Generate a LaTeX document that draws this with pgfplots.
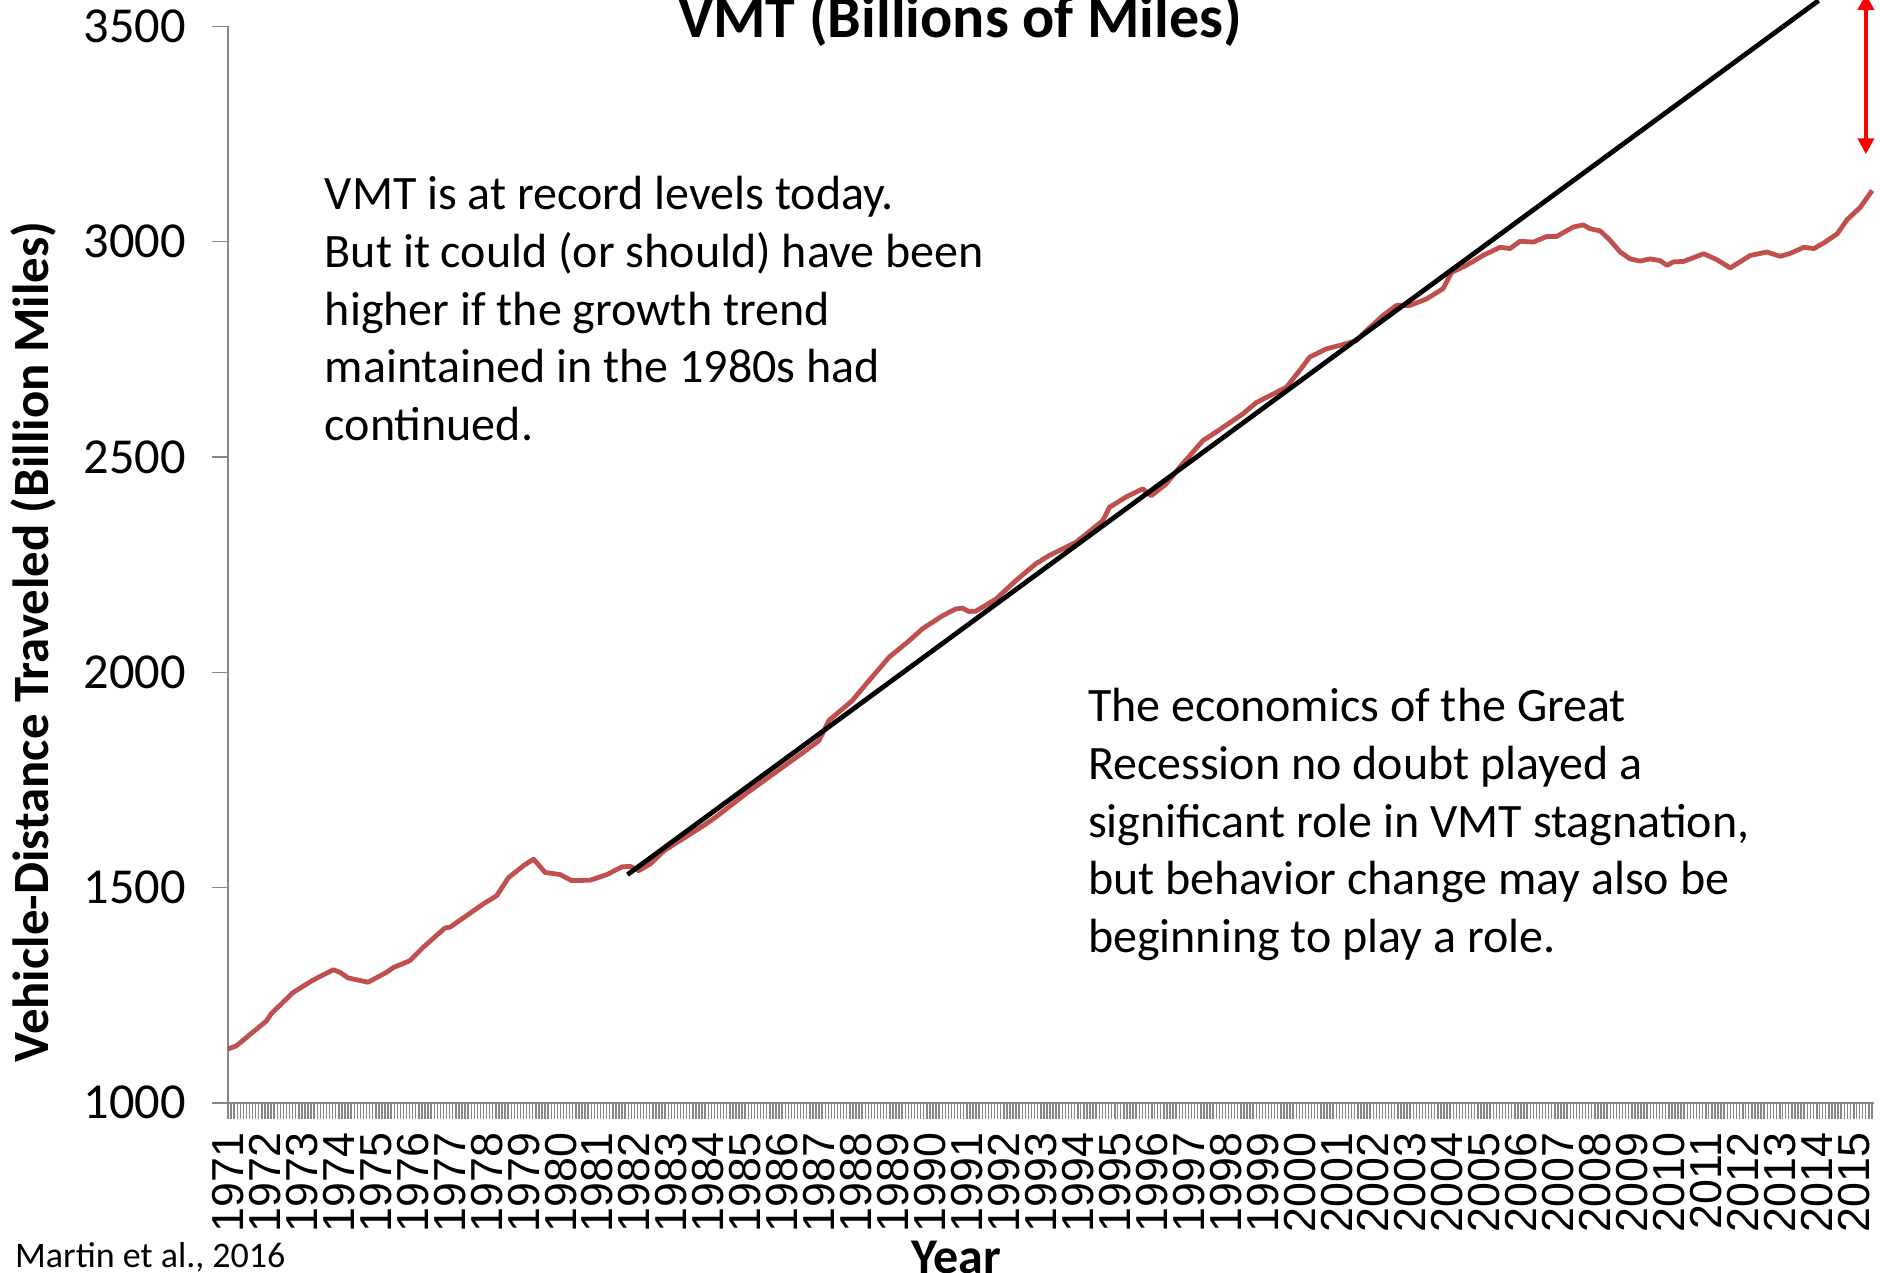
\documentclass[border=0pt]{standalone}
\usepackage{pgfplots}
\pgfplotsset{compat=1.18}
\usepackage{fontspec}
\setmainfont{Carlito}
\newfontfamily\arialf{Liberation Sans}
\usetikzlibrary{arrows.meta}
\definecolor{vmtred}{RGB}{192,80,77}
\definecolor{axgray}{RGB}{134,134,134}
\begin{document}
\begin{tikzpicture}
\useasboundingbox (0,0) rectangle (470pt,318pt);
\begin{axis}[
  at={(57pt,42.3pt)}, anchor=south west,
  scale only axis, width=411.6pt, height=269.1pt,
  xmin=1971, xmax=2015.55, ymin=1000, ymax=3500,
  axis lines*=left, axis line style={axgray, line width=0.6pt, -},
  clip=false,
  xtick={1971,...,2015},
  minor xtick={1971,1971.0833333,...,2015.5},
  ytick={1000,1500,...,3500},
  tick align=outside,
  major tick length=4pt, minor tick length=4pt,
  tick style={axgray, line width=0.35pt},
  minor tick style={axgray, line width=0.35pt},
  xticklabel style={rotate=90, anchor=east, font=\arialf\fontsize{11.2}{11.2}\selectfont},
  yticklabel style={font=\fontsize{12.6}{12.6}\selectfont, xshift=-3pt},
  /pgf/number format/1000 sep={},
  /pgf/number format/assume math mode=true,
]
\addplot[vmtred, line width=1.2pt, line join=round] table {
1971.00 1125
1971.22 1132
1972.04 1190
1972.17 1207
1972.76 1256
1973.30 1285
1973.85 1309
1974.03 1303
1974.25 1290
1974.79 1280
1975.29 1303
1975.47 1314
1975.92 1330
1976.28 1361
1976.87 1406
1977.01 1408
1977.91 1462
1978.27 1481
1978.59 1523
1979.00 1551
1979.27 1566
1979.58 1535
1979.99 1530
1980.30 1516
1980.80 1517
1981.25 1530
1981.66 1548
1981.89 1549
1982.11 1539
1982.43 1555
1982.79 1585
1983.87 1644
1984.19 1663
1985.00 1717
1986.00 1779
1986.63 1818
1986.99 1841
1987.26 1888
1987.89 1934
1988.34 1980
1988.89 2035
1989.43 2073
1989.79 2101
1990.33 2131
1990.69 2147
1990.87 2149
1991.05 2141
1991.24 2142
1991.78 2170
1992.32 2213
1992.86 2252
1993.22 2271
1993.95 2302
1994.67 2352
1994.85 2383
1995.30 2407
1995.75 2426
1995.98 2410
1996.38 2437
1996.75 2476
1997.38 2538
1997.74 2558
1998.46 2600
1998.82 2626
1999.64 2662
2000.00 2701
2000.27 2732
2000.72 2751
2001.08 2759
2001.53 2770
2001.81 2794
2002.26 2829
2002.62 2852
2002.98 2852
2003.43 2867
2003.88 2891
2004.11 2929
2004.51 2945
2004.96 2968
2005.42 2987
2005.69 2984
2005.96 3001
2006.32 2999
2006.68 3012
2006.95 3012
2007.40 3034
2007.67 3039
2007.86 3030
2008.13 3025
2008.40 3003
2008.67 2976
2008.94 2960
2009.21 2955
2009.48 2960
2009.75 2956
2009.94 2945
2010.11 2953
2010.38 2954
2010.93 2972
2011.29 2958
2011.65 2939
2012.19 2968
2012.64 2976
2013.00 2966
2013.28 2973
2013.64 2987
2013.91 2984
2014.18 2997
2014.54 3018
2014.81 3051
2015.17 3080
2015.49 3119
};
\addplot[black, line width=1.2pt] coordinates {(1981.81,1530) (2014.04,3560)};
\addplot[red, line width=1pt, {Triangle[width=4pt,length=4pt]}-{Triangle[width=4pt,length=4pt]}] coordinates {(2015.32,3203) (2015.32,3575)};
\end{axis}
\node[anchor=base, font=\bfseries\fontsize{15}{15}\selectfont] at (240pt,308.5pt) {VMT (Billions of Miles)};
\node[rotate=90, font=\bfseries\fontsize{12.7}{12.7}\selectfont] at (8.4pt,157.5pt) {Vehicle-Distance Traveled (Billion Miles)};
\node[anchor=base, font=\bfseries\fontsize{12.5}{12.5}\selectfont, inner sep=0] at (239pt,-0.3pt) {Year};
\node[anchor=base west, font=\fontsize{9}{9}\selectfont, inner sep=0] at (3.6pt,1.25pt) {Martin et al., 2016};
\begin{scope}[every node/.style={anchor=base west, inner sep=0, font=\fontsize{12}{12}\selectfont}]
\node at (81pt,265.5pt) {VMT is at record levels today.};
\node at (81pt,251.1pt) {But it could (or should) have been};
\node at (81pt,236.7pt) {higher if the growth trend};
\node at (81pt,222.3pt) {maintained in the 1980s had};
\node at (81pt,207.9pt) {continued.};
\node at (271.8pt,137.5pt) {The economics of the Great};
\node at (271.8pt,123.1pt) {Recession no doubt played a};
\node at (271.8pt,108.7pt) {significant role in VMT stagnation,};
\node at (271.8pt,94.3pt) {but behavior change may also be};
\node at (271.8pt,79.9pt) {beginning to play a role.};
\end{scope}
\end{tikzpicture}
\end{document}
